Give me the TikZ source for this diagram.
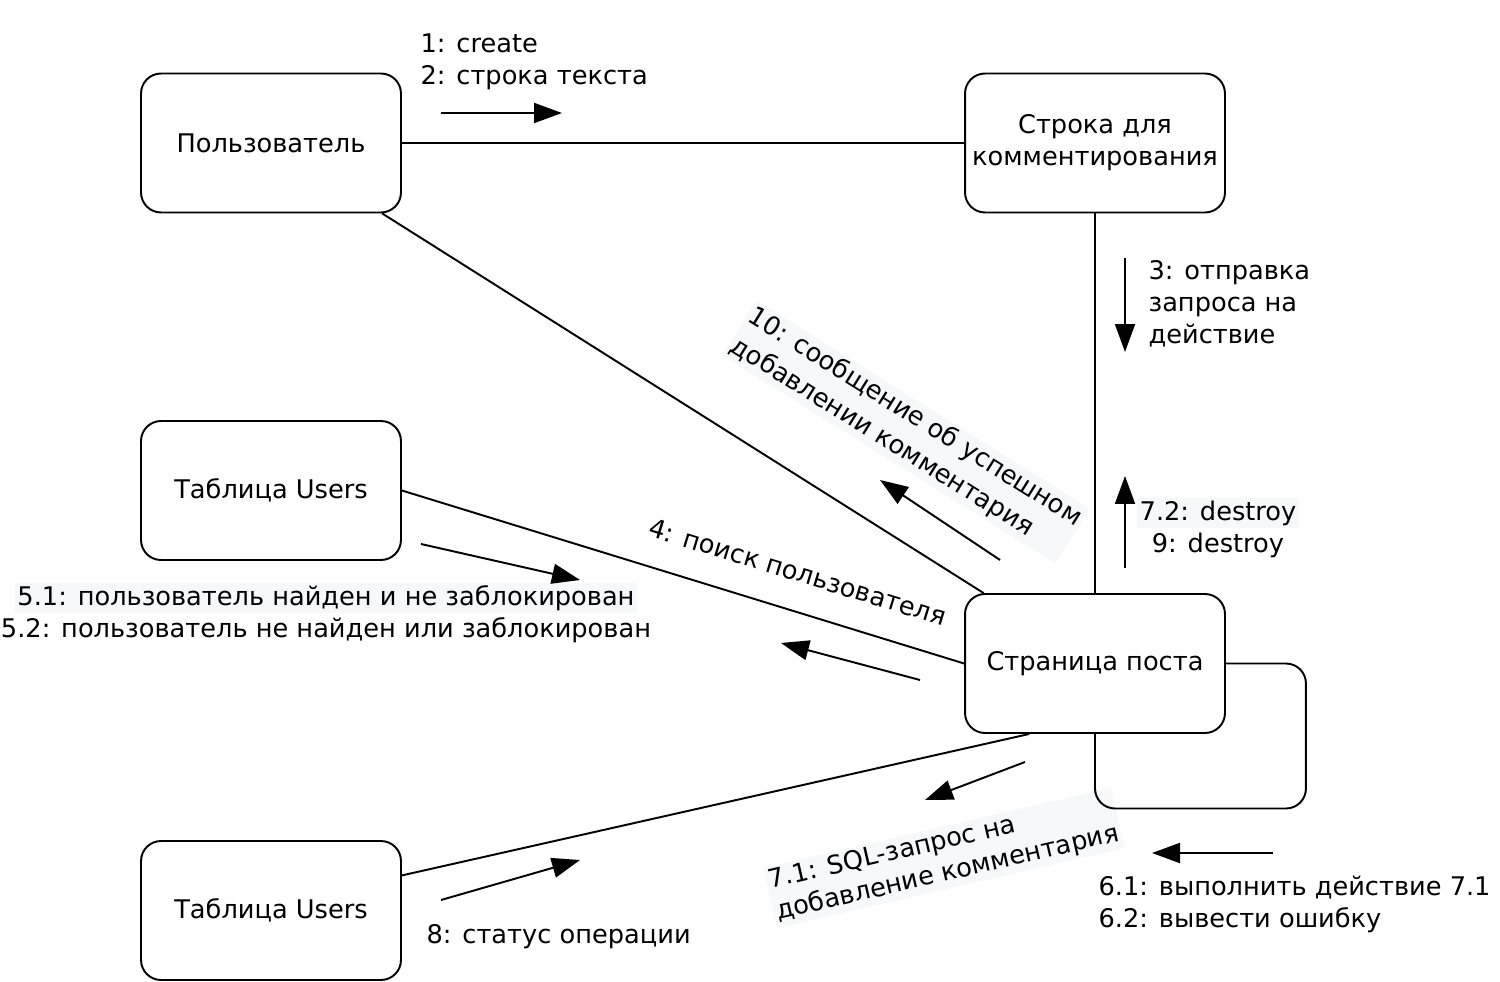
\documentclass[tikz,border=0pt]{standalone}
\usepackage{fontspec}
\setmainfont{DejaVu Sans}
\usetikzlibrary{arrows.meta}
\definecolor{labelbg}{RGB}{247,248,250}
\tikzset{
	every path/.style={line width=1.1pt},
	every node/.style={font=\fontsize{14.6}{18.2}\selectfont},
	obj/.style={draw,rounded corners=0.4cm,minimum width=5.2cm,minimum height=2.78cm,align=center},
	msgtext/.style={align=left,inner sep=1.5pt},
	shaded/.style={fill=labelbg},
	msg/.style={-{Triangle[length=0.56cm,width=0.4cm]}},
}

\begin{document}
\begin{tikzpicture}[x=0.02cm,y=-0.02cm]
	\useasboundingbox (0,0) rectangle (1500,982);

	%message labels..............
	\node [msgtext,anchor=west] (t1) at (417,62) {1: create\\2: строка текста};
	\node [msgtext,anchor=west] (t3) at (1145,304) {3: отправка\\запроса на\\действие};
	\node [msgtext,shaded] (t72) at (1218,513) {7.2: destroy};
	\node [msgtext] (t9) at (1218,545) {9: destroy};
	\node [msgtext,shaded,rotate=-32,font=\fontsize{14.6}{19.5}\selectfont] (t10) at (906,432) {10: сообщение об успешном\\добавлении комментария};
	\node [msgtext,rotate=-17] (t4) at (798,572) {4: поиск пользователя};
	\node [msgtext,shaded] (t51) at (326,598) {5.1: пользователь найден и не заблокирован};
	\node [msgtext] (t52) at (326,630) {5.2: пользователь не найден или заблокирован};
	\node [msgtext,shaded,rotate=13] (t71) at (944,858) {7.1: SQL-запрос на\\добавление комментария};
	\node [msgtext,anchor=west] (t6) at (1095,904) {6.1: выполнить действие 7.1\\6.2: вывести ошибку};
	\node [msgtext,anchor=west] (t8) at (423,937) {8: статус операции};

	%objects.....................
	\node [obj] (user) at (271,143) {Пользователь};
	\node [obj] (line) at (1095,143) {Строка для\\комментирования};
	\node [obj] (tab1) at (271,490.5) {Таблица Users};
	\node [obj] (post) at (1095,663.5) {Страница поста};
	\node [obj] (tab2) at (271,910.5) {Таблица Users};

	%links.......................
	\draw (user) -- (line);
	\draw (line) -- (post);
	\draw (user) -- (post);
	\draw (tab1.east) -- (post.west);
	\draw (tab2.15) -- (post.227);

	%self link...................
	\draw [rounded corners=0.4cm] (post.east) -- ++(80,0) -- ++(0,145) -| (post.south);

	%message arrows..............
	\coordinate (m1a) at (441,113);  \coordinate (m1b) at (562,113);
	\coordinate (m3a) at (1125,258); \coordinate (m3b) at (1125,352);
	\coordinate (m7a) at (1125,568); \coordinate (m7b) at (1125,476);
	\coordinate (m10a) at (1000,560); \coordinate (m10b) at (880,480);
	\coordinate (m4a) at (920,680);  \coordinate (m4b) at (781,643);
	\coordinate (m5a) at (421,544);  \coordinate (m5b) at (580,580);
	\coordinate (m71a) at (1025,762); \coordinate (m71b) at (925,800);
	\coordinate (m8a) at (441,900);  \coordinate (m8b) at (580,860);
	\coordinate (m6a) at (1273,853); \coordinate (m6b) at (1152,853);

	\draw [msg] (m1a) -- (m1b);
	\draw [msg] (m3a) -- (m3b);
	\draw [msg] (m7a) -- (m7b);
	\draw [msg] (m10a) -- (m10b);
	\draw [msg] (m4a) -- (m4b);
	\draw [msg] (m5a) -- (m5b);
	\draw [msg] (m71a) -- (m71b);
	\draw [msg] (m8a) -- (m8b);
	\draw [msg] (m6a) -- (m6b);
\end{tikzpicture}
\end{document}
